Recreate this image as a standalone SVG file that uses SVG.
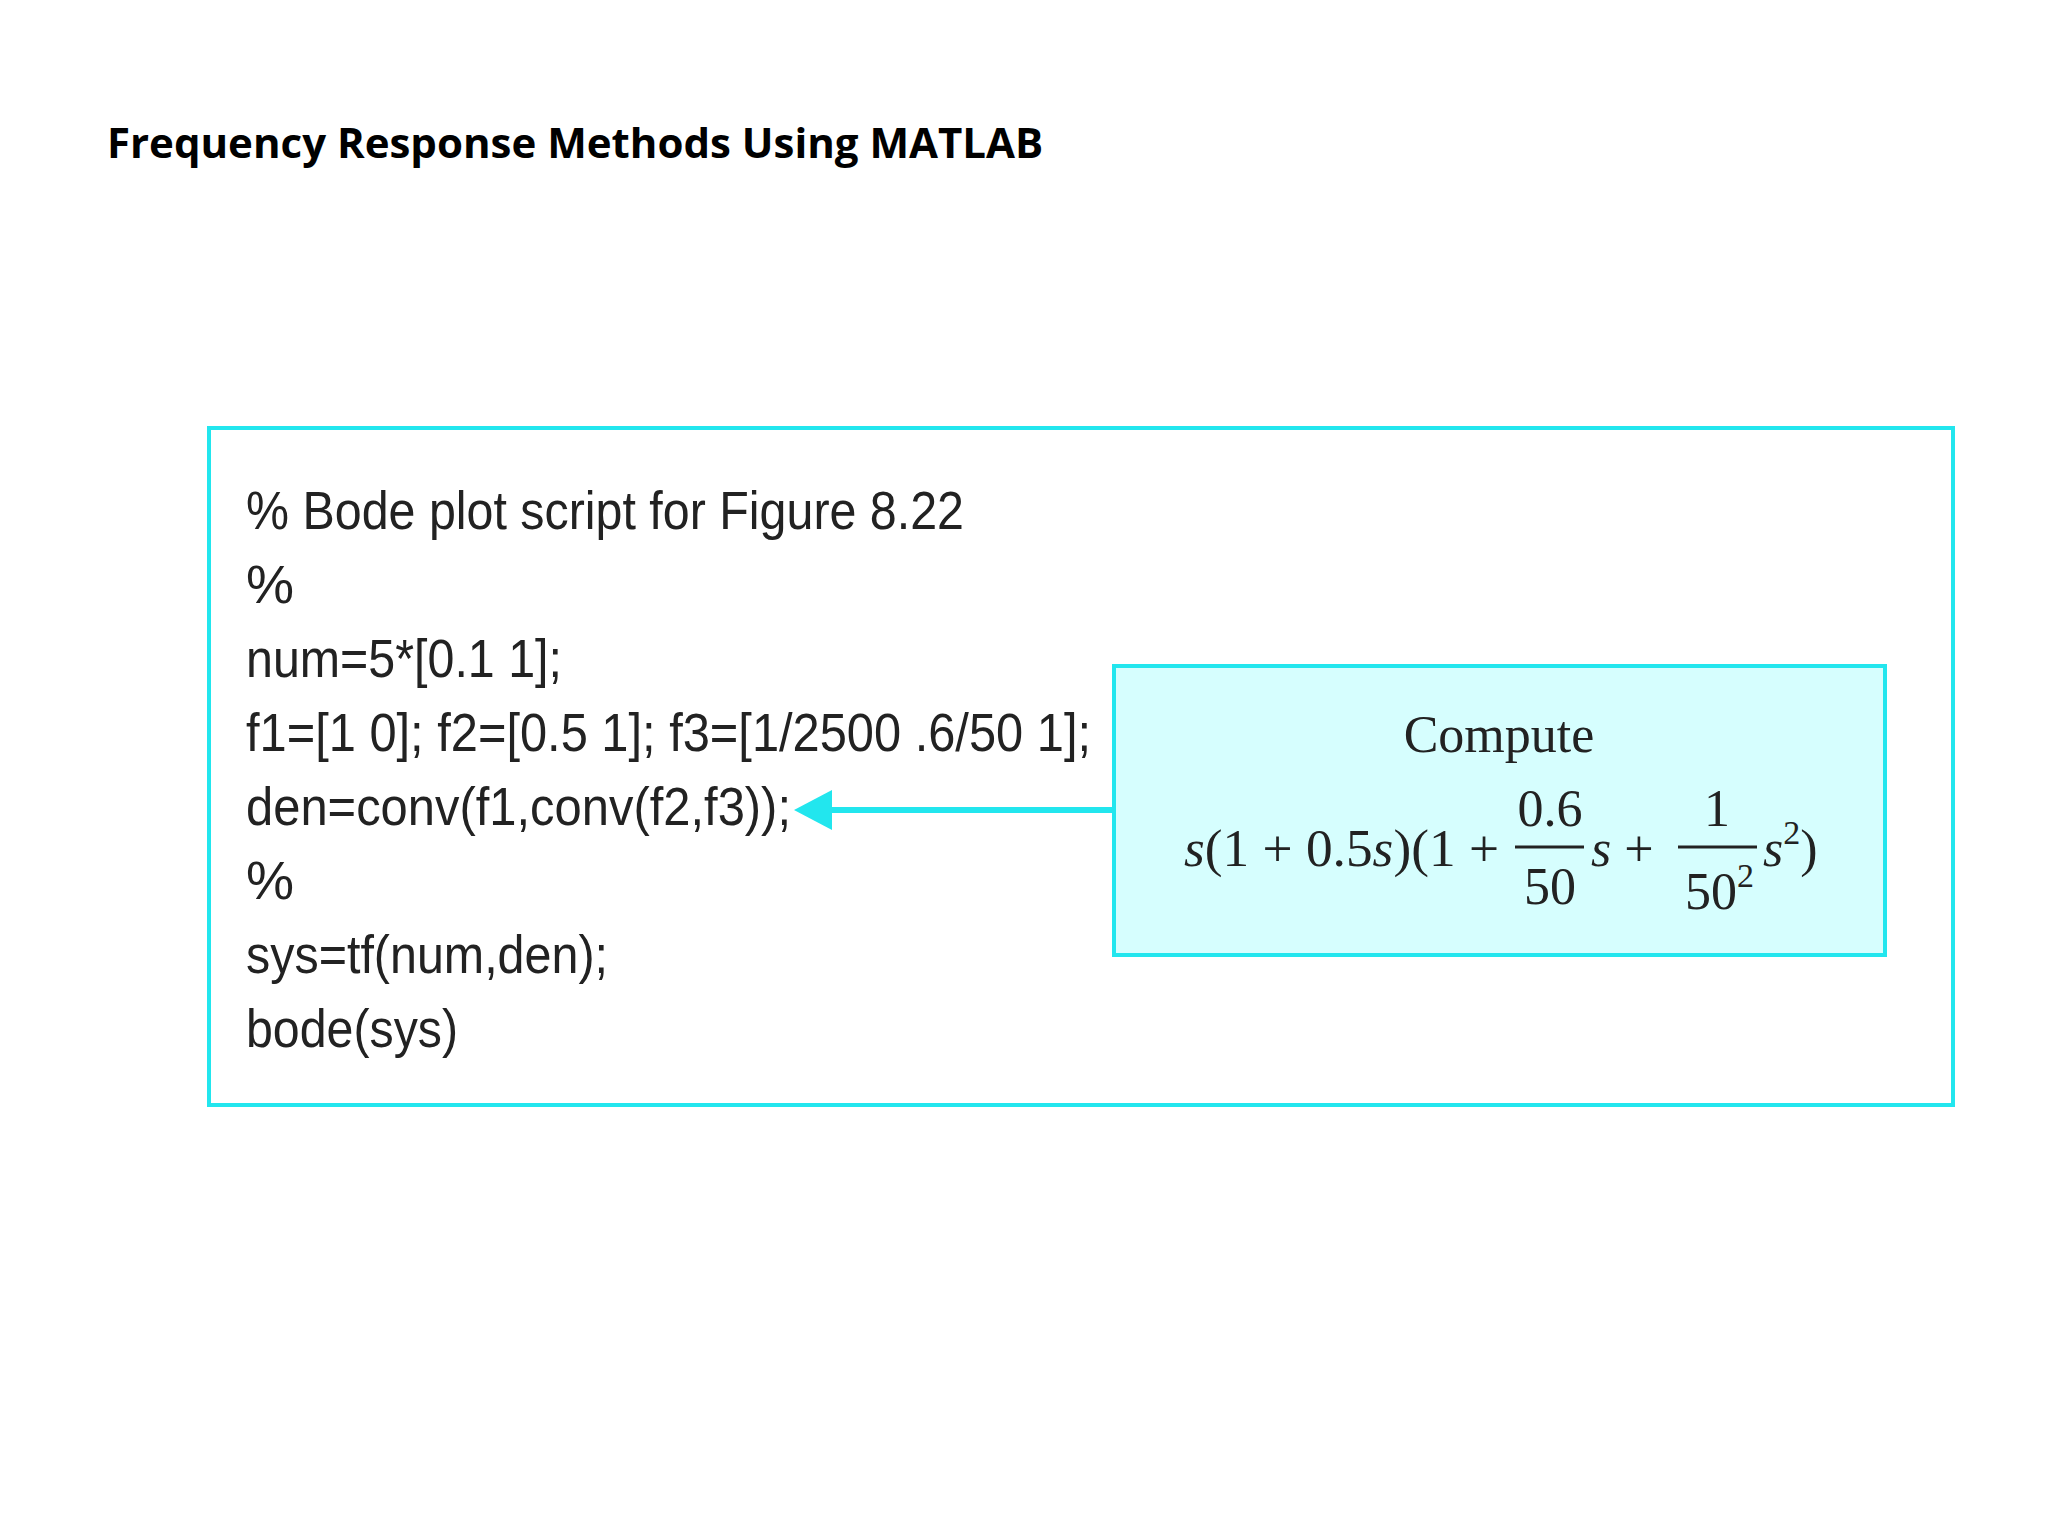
<svg xmlns="http://www.w3.org/2000/svg" width="2048" height="1536" viewBox="0 0 2048 1536">
<style>
.code{font-family:"Liberation Sans Narrow","Liberation Sans",sans-serif;font-size:54px;fill:#222}
.m{font-family:"Liberation Serif",serif;font-size:52px;fill:#222}
.i{font-style:italic}
</style>
<rect width="2048" height="1536" fill="#fff"/>
<text x="107" y="158" font-family="Open Sans, Liberation Sans, sans-serif" font-weight="bold" font-size="42" fill="#000">Frequency Response Methods Using MATLAB</text>
<g id="outer"><rect x="209" y="428" width="1744" height="677" fill="none" stroke="#22e6ee" stroke-width="4"/>
<text class="code" x="246" y="529" textLength="718" lengthAdjust="spacingAndGlyphs">% Bode plot script for Figure 8.22</text>
<text class="code" x="246" y="603">%</text>
<text class="code" x="246" y="677" textLength="316" lengthAdjust="spacingAndGlyphs">num=5*[0.1 1];</text>
<text class="code" x="246" y="751" textLength="845" lengthAdjust="spacingAndGlyphs">f1=[1 0]; f2=[0.5 1]; f3=[1/2500 .6/50 1];</text>
<text class="code" x="246" y="825" textLength="545" lengthAdjust="spacingAndGlyphs">den=conv(f1,conv(f2,f3));</text>
<text class="code" x="246" y="899">%</text>
<text class="code" x="246" y="973" textLength="362" lengthAdjust="spacingAndGlyphs">sys=tf(num,den);</text>
<text class="code" x="246" y="1047" textLength="212" lengthAdjust="spacingAndGlyphs">bode(sys)</text>
</g>
<g id="connectors">
<line x1="1114" y1="810" x2="820" y2="810" stroke="#22e6ee" stroke-width="6"/>
<polygon points="794,810 832,790 832,830" fill="#22e6ee"/>
</g>
<g id="compute">
<rect x="1114" y="666" width="771" height="289" fill="#d6fefe" stroke="#22e6ee" stroke-width="4"/>
<text class="m" x="1499" y="752" text-anchor="middle">Compute</text>
<text class="m" x="1184" y="866" textLength="315" lengthAdjust="spacingAndGlyphs"><tspan class="i">s</tspan>(1 + 0.5<tspan class="i">s</tspan>)(1 +</text>
<line x1="1515" y1="847" x2="1584" y2="847" stroke="#222" stroke-width="3"/>
<text class="m" x="1550" y="826" text-anchor="middle">0.6</text>
<text class="m" x="1550" y="904" text-anchor="middle">50</text>
<text class="m" x="1591" y="866"><tspan class="i">s</tspan> +</text>
<line x1="1678" y1="847" x2="1757" y2="847" stroke="#222" stroke-width="3"/>
<text class="m" x="1717" y="826" text-anchor="middle">1</text>
<text class="m" x="1685" y="909">50<tspan font-size="34" dy="-22">2</tspan></text>
<text class="m" x="1763" y="866"><tspan class="i">s</tspan><tspan font-size="34" dy="-22">2</tspan><tspan dy="22">)</tspan></text>
</g>
</svg>
